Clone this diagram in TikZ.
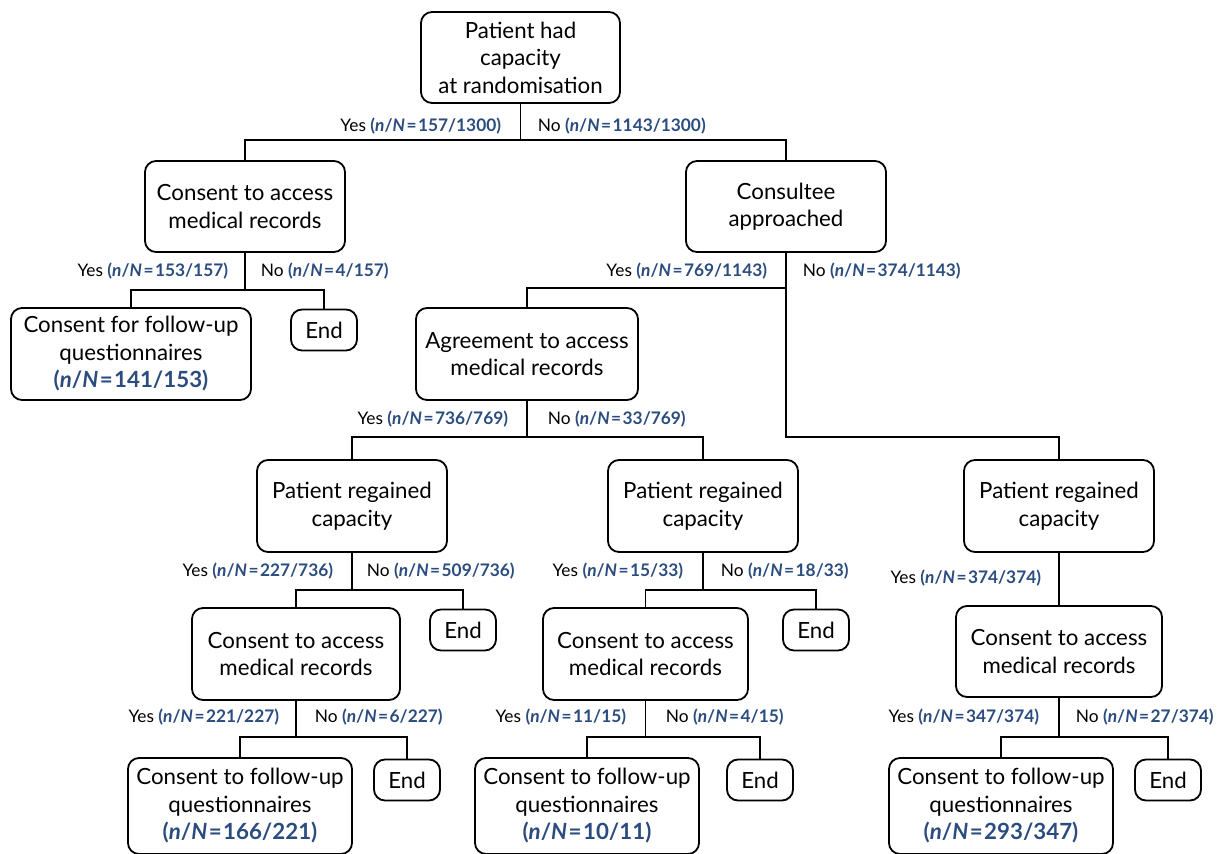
\documentclass[tikz,border=0pt]{standalone}
\usepackage{fontspec}
\setmainfont{Lato}
\usepackage{tikz}

\definecolor{nblue}{HTML}{2B4C7E}
\newcommand{\nN}[1]{{\color{nblue}\bfseries(\textit{n}/\textit{N}\kern1.5pt=\kern1.5pt#1)}}

\tikzset{
  box/.style={draw, line width=1.8pt, rounded corners=11pt, align=center, inner sep=0pt,
    font=\fontsize{22.3}{27.5}\selectfont},
  endbox/.style={box, minimum width=66pt, minimum height=41pt},
  yes/.style={anchor=east, inner sep=0pt, font=\fontsize{17.3}{21}\selectfont},
  no/.style={anchor=west, inner sep=0pt, font=\fontsize{17.3}{21}\selectfont}
}

\begin{document}
\begin{tikzpicture}[x=1pt, y=-1pt, line width=1.8pt]
\useasboundingbox (0,0) rectangle (1219,854);

\node[box, minimum width=199pt, minimum height=91pt] (root) at (520.5,57.5) {Patient had\\capacity\\at randomisation};
\node[box, minimum width=200pt, minimum height=91pt] (capL) at (245,206.5) {Consent to access\\medical records};
\node[box, minimum width=200pt, minimum height=91pt] (cons) at (786,206.5) {Consultee\\approached};

\node[box, minimum width=240pt, minimum height=92pt] (fuL) at (131,354) {Consent for follow-up\\questionnaires\\\nN{141/153}};
\node[endbox] (endL) at (324,330) {End};
\node[box, minimum width=222pt, minimum height=92pt] (agree) at (527,354) {Agreement to access\\medical records};

\node[box, minimum width=190pt, minimum height=92pt] (regA) at (352,506) {Patient regained\\capacity};
\node[box, minimum width=190pt, minimum height=92pt] (regB) at (703,506) {Patient regained\\capacity};
\node[box, minimum width=190pt, minimum height=92pt] (regC) at (1059,506) {Patient regained\\capacity};

\node[box, minimum width=208pt, minimum height=92pt] (medA) at (296,654) {Consent to access\\medical records};
\node[endbox] (endA) at (463,630) {End};
\node[box, minimum width=205pt, minimum height=92pt] (medB) at (645.5,654) {Consent to access\\medical records};
\node[endbox] (endB) at (816,630) {End};
\node[box, minimum width=206pt, minimum height=91pt] (medC) at (1059,651.5) {Consent to access\\medical records};

\node[box, minimum width=224pt, minimum height=96pt] (fuA) at (240,806) {Consent to follow-up\\questionnaires\\\nN{166/221}};
\node[endbox] (endA2) at (407,780) {End};
\node[box, minimum width=224pt, minimum height=96pt] (fuB) at (587,806) {Consent to follow-up\\questionnaires\\\nN{10/11}};
\node[endbox] (endB2) at (760,780) {End};
\node[box, minimum width=224pt, minimum height=96pt] (fuC) at (1001,806) {Consent to follow-up\\questionnaires\\\nN{293/347}};
\node[endbox] (endC2) at (1168,780) {End};

% branch points
\coordinate (b0) at (520.5,140);
\coordinate (b1) at (245,290);
\coordinate (b2) at (786,288);
\coordinate (b3) at (786,437);
\coordinate (b4) at (527,437);
\coordinate (b5) at (352,590);
\coordinate (b6) at (703,590);
\coordinate (b7) at (296,737);
\coordinate (b8) at (645.5,737);
\coordinate (b9) at (1059,737);

\draw (root) -- (b0) -| (capL);
\draw (b0) -| (cons);
\draw (capL) -- (b1) -| (fuL);
\draw (b1) -| (endL);
\draw (cons) -- (b3) -| (regC);
\draw (b2) -| (agree);
\draw (agree) -- (b4) -| (regA);
\draw (b4) -| (regB);
\draw (regA) -- (b5) -| (medA);
\draw (b5) -| (endA);
\draw (regB) -- (b6) -| (medB);
\draw (b6) -| (endB);
\draw (regC) -- (medC);
\draw (medA) -- (b7) -| (fuA);
\draw (b7) -| (endA2);
\draw (medB) -- (b8) -| (fuB);
\draw (b8) -| (endB2);
\draw (medC) -- (b9) -| (fuC);
\draw (b9) -| (endC2);

\node[yes] (y0) at (502,126) {Yes \nN{157/1300}};
\node[no] (n0) at (537,126) {No \nN{1143/1300}};
\node[yes] (y1) at (229,271) {Yes \nN{153/157}};
\node[no] (n1) at (260,271) {No \nN{4/157}};
\node[yes] (y2) at (768,271) {Yes \nN{769/1143}};
\node[no] (n2) at (802,271) {No \nN{374/1143}};
\node[yes] (y4) at (509,419) {Yes \nN{736/769}};
\node[no] (n4) at (547,419) {No \nN{33/769}};
\node[yes] (y5) at (334,571) {Yes \nN{227/736}};
\node[no] (n5) at (366,571) {No \nN{509/736}};
\node[yes] (y6) at (684,571) {Yes \nN{15/33}};
\node[no] (n6) at (720,571) {No \nN{18/33}};
\node[yes] (y6c) at (1042,578) {Yes \nN{374/374}};
\node[yes] (y7) at (280,717) {Yes \nN{221/227}};
\node[no] (n7) at (314,717) {No \nN{6/227}};
\node[yes] (y8) at (627,717) {Yes \nN{11/15}};
\node[no] (n8) at (665,717) {No \nN{4/15}};
\node[yes] (y9) at (1040,717) {Yes \nN{347/374}};
\node[no] (n9) at (1075,717) {No \nN{27/374}};
\end{tikzpicture}
\end{document}
